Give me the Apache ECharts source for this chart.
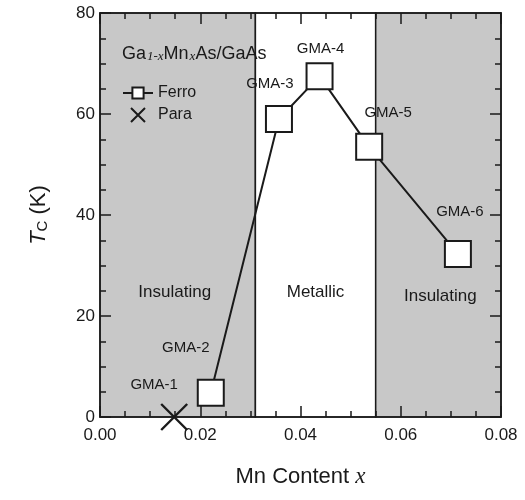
<!DOCTYPE html>
<html><head><meta charset="utf-8">
<script src="https://cdn.jsdelivr.net/npm/echarts@6/dist/echarts.min.js"></script>
<style>html,body{margin:0;padding:0;background:#fff}#c{width:525px;height:500px}</style>
</head><body><div id="c"></div>
<script>
// ---- data ----
const ferroNames = ['GMA-2', 'GMA-3', 'GMA-4', 'GMA-5', 'GMA-6'];
const ferroX = [0.0221, 0.0357, 0.0438, 0.0537, 0.0714];
const ferroTc = [4.8, 59.0, 67.5, 53.5, 32.3];
const paraNames = ['GMA-1'];
const paraX = [0.0148];
const paraTc = [0];
const regionBounds = [0, 0.031, 0.055, 0.08];
const regionNames = ['Insulating', 'Metallic', 'Insulating'];
const xTickValues = [0, 0.02, 0.04, 0.06, 0.08];
const yTickValues = [0, 20, 40, 60, 80];

// ---- styles (label offsets, colours) ----
const ferroLabelOffsets = [[-25, -45], [-9, -35], [1, -27], [19, -34], [2, -42]];
const paraLabelOffsets = [[-20, -32]];
const regionFill = ['#c8c8c8', '#ffffff', '#c8c8c8'];
const regionLabelOffsets = [[-3, 77], [0, 77], [2, 81]];
const ink = '#1a1a1a';
const font = 'Liberation Sans, Arial, Helvetica, sans-serif';

const chart = echarts.init(document.getElementById('c'), null, {renderer: 'canvas'});

const mkData = (xs, ys, names, offs) => xs.map((x, i) => ({
  value: [x, ys[i]], name: names[i],
  label: {show: true, formatter: names[i], position: 'inside', offset: offs[i],
          color: ink, fontSize: 15, fontFamily: font}
}));

const areas = regionNames.map((n, i) => [
  {xAxis: regionBounds[i], yAxis: 0, name: n,
   itemStyle: {color: regionFill[i], borderColor: ink, borderWidth: 1.5},
   label: {show: true, position: 'inside', offset: regionLabelOffsets[i], color: ink, fontSize: 17, fontFamily: font, formatter: n}},
  {xAxis: regionBounds[i + 1], yAxis: 80}
]);

const axisCommon = {
  z: 10,
  axisLine: {show: true, onZero: false, lineStyle: {color: ink, width: 1.5}},
  axisTick: {show: true, inside: true, length: 11, lineStyle: {color: ink, width: 1.5}},
  minorTick: {show: true, splitNumber: 4, length: 6, lineStyle: {color: ink, width: 1.5}},
  splitLine: {show: false},
  minorSplitLine: {show: false}
};

const xLabelFmt = v => xTickValues.some(t => Math.abs(t - v) < 1e-9) ? v.toFixed(2) : '';
const yLabelFmt = v => yTickValues.includes(v) ? String(v) : '';

chart.setOption({
  animation: false,
  backgroundColor: '#fff',
  textStyle: {fontFamily: font},
  title: {
    left: 117, top: 36,
    text: '{a|Ga}{s|1-x}{a|Mn}{s|x}{a|As/GaAs}',
    textStyle: {
      fontWeight: 'normal',
      rich: {
        a: {fontSize: 18, fontWeight: 'normal', color: ink, fontFamily: font, lineHeight: 22, verticalAlign: 'bottom'},
        s: {fontSize: 13, fontWeight: 'normal', color: ink, fontFamily: 'Liberation Serif, serif', fontStyle: 'italic', lineHeight: 22, verticalAlign: 'bottom', padding: [6, 0, 0, 1]}
      }
    }
  },
  legend: {
    orient: 'vertical', left: 117, top: 80, itemGap: 6,
    itemWidth: 30, itemHeight: 14,
    textStyle: {fontSize: 16, color: ink, fontFamily: font},
    data: ['Ferro', 'Para']
  },
  grid: {left: 100, right: 24, top: 13, bottom: 83},
  xAxis: [
    Object.assign({}, axisCommon, {
      type: 'value', min: 0, max: 0.08, interval: 0.02, position: 'bottom',
      name: '{a|Mn Content }{i|x}', nameLocation: 'middle', nameGap: 48,
      nameTextStyle: {rich: {
        a: {fontSize: 22, color: ink, fontFamily: font},
        i: {fontSize: 23, color: ink, fontFamily: 'Liberation Serif, serif', fontStyle: 'italic'}
      }},
      axisLabel: {show: true, margin: 10, fontSize: 17, color: ink, fontFamily: font, formatter: xLabelFmt}
    }),
    Object.assign({}, axisCommon, {
      type: 'value', min: 0, max: 0.08, interval: 0.02, position: 'top',
      axisLabel: {show: false}
    })
  ],
  yAxis: [
    Object.assign({}, axisCommon, {
      type: 'value', min: 0, max: 80, interval: 20, position: 'left',
      name: '{t|T}{c|C}{a| (K)}', nameLocation: 'middle', nameGap: 50, nameRotate: 90,
      nameTextStyle: {rich: {
        t: {fontSize: 22, color: ink, fontFamily: font, fontStyle: 'italic', lineHeight: 26, verticalAlign: 'bottom'},
        c: {fontSize: 15, color: ink, fontFamily: font, lineHeight: 26, verticalAlign: 'bottom', padding: [8, 0, 0, 0]},
        a: {fontSize: 22, color: ink, fontFamily: font, lineHeight: 26, verticalAlign: 'bottom'}
      }},
      axisLabel: {show: true, margin: 5, fontSize: 17, color: ink, fontFamily: font, formatter: yLabelFmt}
    }),
    Object.assign({}, axisCommon, {
      type: 'value', min: 0, max: 80, interval: 20, position: 'right',
      axisLabel: {show: false}
    })
  ],
  series: [
    {
      name: 'Ferro', type: 'line', xAxisIndex: 0, yAxisIndex: 0, z: 5,
      symbol: 'rect', symbolSize: 26,
      lineStyle: {color: ink, width: 2},
      itemStyle: {color: '#fff', borderColor: ink, borderWidth: 2},
      data: mkData(ferroX, ferroTc, ferroNames, ferroLabelOffsets),
      markArea: {silent: true, z: 1, data: areas}
    },
    {
      name: 'Para', type: 'scatter', xAxisIndex: 0, yAxisIndex: 0, z: 5, clip: false,
      symbol: 'path://M0,0L10,10M10,0L0,10', symbolSize: 26,
      itemStyle: {color: 'rgba(0,0,0,0)', borderColor: ink, borderWidth: 2.4, opacity: 1},
      data: mkData(paraX, paraTc, paraNames, paraLabelOffsets)
    }
  ]
});
</script></body></html>
